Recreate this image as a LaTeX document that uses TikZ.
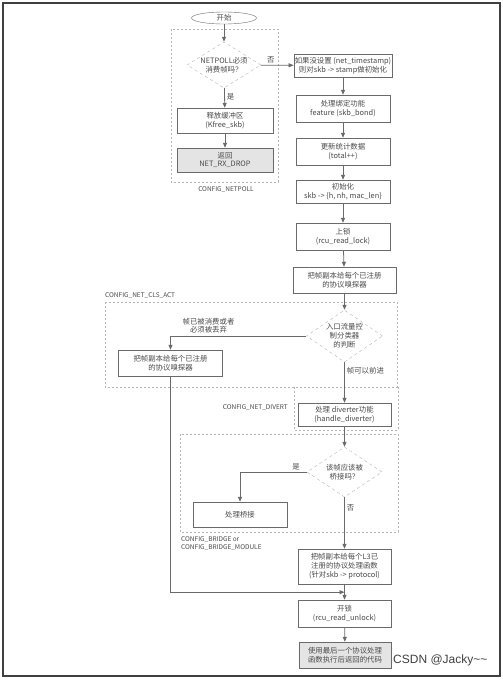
\documentclass[tikz,border=0pt]{standalone}
\usepackage{fontspec}
\setmainfont{Noto Sans CJK SC}
\newfontfamily\wmfont{Liberation Sans}
\usetikzlibrary{shapes.geometric,arrows.meta}
\definecolor{linegray}{HTML}{6A6A6A}
\definecolor{textgray}{HTML}{4A4A4A}
\definecolor{dashgray}{HTML}{B4B4B4}
\definecolor{boxfill}{HTML}{E4E4E4}

\tikzset{
  proc/.style={draw=linegray, fill=white, align=center, inner sep=1pt, text=textgray,
    font=\fontsize{7.4}{8.8}\selectfont, minimum width=94pt, minimum height=25pt},
  procgray/.style={proc, fill=boxfill},
  decide/.style={diamond, draw=dashgray, dashed, align=center, inner sep=0pt, aspect=1.6,
    text=textgray, font=\fontsize{7.4}{8.8}\selectfont},
  region/.style={draw=dashgray, dashed, dash pattern=on 2pt off 2pt},
  cfg/.style={text=textgray, font=\fontsize{6.5}{8}\selectfont, inner sep=0pt, align=left},
  lab/.style={text=textgray, font=\fontsize{7.4}{8.8}\selectfont, inner sep=2pt, align=center},
  arr/.style={draw=linegray, line width=0.8pt, -{Triangle[length=5pt,width=4pt]}}
}

\begin{document}
\begin{tikzpicture}[x=1pt,y=-1pt]
\useasboundingbox (0,0) rectangle (503,680);
\fill[white] (0,0) rectangle (503,680);
\draw[black!75, line width=1.2pt] (3,3) rectangle (500,676);

% regions for the config options
\draw[region] (171,29) rectangle (278,182);
\draw[region] (105,302) rectangle (397,387);
\draw[region] (294,387) -- (294,430) -- (398,430) -- (398,387);
\draw[region] (180,434) rectangle (398,532);
\node[cfg] (cfgpoll) at (226,190) {CONFIG\_NETPOLL};
\node[cfg, anchor=south west] (cfgcls) at (105,299) {CONFIG\_NET\_CLS\_ACT};
\node[cfg, anchor=east] (cfgdiv) at (288,408) {CONFIG\_NET\_DIVERT};
\node[cfg, anchor=north west] (cfgbr) at (181,536) {CONFIG\_BRIDGE or\\CONFIG\_BRIDGE\_MODULE};

% left column
\node[ellipse, draw=linegray, text=textgray, font=\fontsize{7.4}{8.8}\selectfont,
  minimum width=65pt, minimum height=12pt, inner sep=0pt] (start) at (224,18) {开始};
\node[decide, minimum width=74pt, minimum height=46pt] (netpoll) at (224,65) {NETPOLL必须\\消费帧吗？};
\node[proc, minimum width=96pt] (free) at (225,120.5) {释放缓冲区\\(Kfree\_skb)};
\node[procgray, minimum width=96pt, minimum height=24pt] (drop) at (225,160) {返回\\NET\_RX\_DROP};

% right column
\node[proc, minimum height=23pt] (stamp) at (343,65.5) {如果没设置 (net\_timestamp)\\则对skb -> stamp做初始化};
\node[proc, minimum height=27pt] (bond) at (343,108.5) {处理绑定功能\\feature (skb\_bond)};
\node[proc, minimum height=27pt] (stats) at (343,151.5) {更新统计数据\\(total++)};
\node[proc, minimum height=23pt] (init) at (343,191.5) {初始化\\skb -> \{h, nh, mac\_len\}};
\node[proc, minimum height=27pt] (lock) at (343,236.5) {上锁\\(rcu\_read\_lock)};
\node[proc, minimum width=103pt, minimum height=26pt] (sniff) at (344.5,280) {把帧副本给每个已注册\\的协议嗅探器};
\node[decide, minimum width=75pt, minimum height=52pt] (ingress) at (344.5,336) {入口流量控\\制分类器\\的判断};
\node[proc, minimum width=104pt, minimum height=26pt] (clssniff) at (170.5,363) {把帧副本给每个已注册\\的协议嗅探器};
\node[proc, minimum width=93pt, minimum height=23pt] (divert) at (344.5,414.5) {处理 diverter功能\\(handle\_diverter)};
\node[decide, minimum width=75pt, minimum height=50pt] (bridgeq) at (344.5,472) {该帧应该被\\桥接吗？};
\node[proc, minimum width=94pt, minimum height=25pt] (bridge) at (240,514.5) {处理桥接};
\node[proc, minimum width=93pt, minimum height=35pt] (l3) at (344.5,566.5) {把帧副本给每个L3已\\注册的协议处理函数\\(针对skb -> protocol)};
\node[proc, minimum width=93pt, minimum height=27pt] (unlock) at (344.5,613.5) {开锁\\(rcu\_read\_unlock)};
\node[procgray, minimum width=92pt, minimum height=26pt] (final) at (345,655) {使用最后一个协议处理\\函数执行后返回的代码};
\path (l3.south) ++(0,8) coordinate (merge);

% connectors
\draw[arr] (start) -- (netpoll);
\draw[arr] (netpoll) -- node[lab, above, pos=0.3] {否} (stamp);
\draw[arr] (netpoll) -- node[lab, right, pos=0.45] {是} (free);
\draw[arr] (free) -- (drop);
\draw[arr] (stamp) -- (bond);
\draw[arr] (bond) -- (stats);
\draw[arr] (stats) -- (init);
\draw[arr] (init) -- (lock);
\draw[arr] (lock) -- (sniff);
\draw[arr] (sniff) -- (ingress);
\draw[arr] (ingress.west) -| node[lab, above, pos=0.36] {帧已被消费或者\\必须被丢弃} (clssniff.north);
\draw[arr] (ingress) -- node[lab, right, pos=0.22] {帧可以前进} (divert);
\draw[arr] (divert) -- (bridgeq);
\draw[arr] (bridgeq.west) -| node[lab, above, pos=0.08] {是} (bridge.north);
\draw[arr] (bridgeq) -- node[lab, right, pos=0.2] {否} (l3);
\draw[arr] (l3) -- (unlock);
\draw[arr] (unlock) -- (final);
\draw[arr] (clssniff.south) |- (merge);

\node[text=black!75, font=\wmfont\fontsize{12}{14}\selectfont, anchor=west, inner sep=0pt] (mark) at (393,660) {CSDN @Jacky\textasciitilde\textasciitilde};
\end{tikzpicture}
\end{document}
